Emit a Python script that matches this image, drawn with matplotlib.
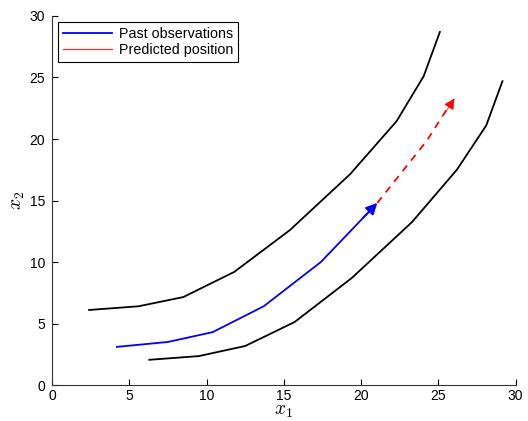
import matplotlib.pyplot as plt
from matplotlib.lines import Line2D

plt.rcParams['font.family'] = ['Liberation Sans', 'DejaVu Sans']
plt.rcParams['mathtext.fontset'] = 'cm'

# track boundaries
upper_x = [2.4, 5.6, 8.5, 11.8, 15.4, 19.3, 22.3, 24.05, 25.1]
upper_y = [6.1, 6.4, 7.15, 9.2, 12.6, 17.15, 21.45, 25.1, 28.7]
lower_x = [6.3, 9.5, 12.5, 15.7, 19.4, 23.3, 26.2, 28.1, 29.15]
lower_y = [2.05, 2.35, 3.17, 5.12, 8.7, 13.25, 17.5, 21.1, 24.7]

# past observations and prediction
obs_x = [4.2, 7.5, 10.4, 13.7, 17.4, 21.05]
obs_y = [3.1, 3.5, 4.3, 6.4, 10.0, 14.8]
pred_x = [21.05, 24.25, 26.05]
pred_y = [14.8, 19.85, 23.3]

fig = plt.figure(figsize=(5.28, 4.21), dpi=100)
ax = fig.add_axes([0.0985, 0.0855, 0.878, 0.8765])

ax.plot(upper_x, upper_y, color='black', lw=1.3)
ax.plot(lower_x, lower_y, color='black', lw=1.3)

ax.plot(obs_x[:-1] + [obs_x[-1] - 0.3], obs_y[:-1] + [obs_y[-1] - 0.4], color='blue', lw=1.3)
ax.annotate('', xy=(obs_x[-1], obs_y[-1]), xytext=(obs_x[-2] + 0.75 * (obs_x[-1] - obs_x[-2]),
                                                   obs_y[-2] + 0.75 * (obs_y[-1] - obs_y[-2])),
            arrowprops=dict(arrowstyle='-|>', color='blue', lw=1.3, mutation_scale=17, shrinkA=0, shrinkB=0))

ax.plot(pred_x[:-1] + [pred_x[-1] - 0.3], pred_y[:-1] + [pred_y[-1] - 0.5], color='red', lw=1.3,
        ls=(0, (4, 3.5)))
ax.annotate('', xy=(pred_x[-1], pred_y[-1]), xytext=(pred_x[-2] + 0.7 * (pred_x[-1] - pred_x[-2]),
                                                     pred_y[-2] + 0.7 * (pred_y[-1] - pred_y[-2])),
            arrowprops=dict(arrowstyle='-|>', color='red', lw=0.5, mutation_scale=17, shrinkA=0, shrinkB=0))

ax.set_xlim(0, 30)
ax.set_ylim(0, 30)
ax.set_xticks([0, 5, 10, 15, 20, 25, 30])
ax.set_yticks([0, 5, 10, 15, 20, 25, 30])
ax.spines['top'].set_visible(False)
ax.spines['right'].set_visible(False)
ax.spines['left'].set_color('#333333')
ax.spines['bottom'].set_color('#333333')
ax.tick_params(direction='in', length=4, labelsize=10, colors='black')
ax.tick_params(axis='x', pad=3)
ax.tick_params(axis='y', pad=5)
ax.set_xlabel('$x_1$', fontsize=14, labelpad=0)
ax.set_ylabel('$x_2$', fontsize=14, labelpad=2)

handles = [Line2D([], [], color='blue', lw=1.3), Line2D([], [], color='#ff3030', lw=0.9)]
leg = ax.legend(handles, ['Past observations', 'Predicted position'], loc='upper left',
                bbox_to_anchor=(0.013, 0.983), fontsize=10.3, fancybox=False, framealpha=1,
                edgecolor='black', handlelength=3.4, borderpad=0.35, labelspacing=0.15,
                handletextpad=0.5, borderaxespad=0)
leg.get_frame().set_linewidth(0.8)

fig.savefig('out.png', dpi=100)
